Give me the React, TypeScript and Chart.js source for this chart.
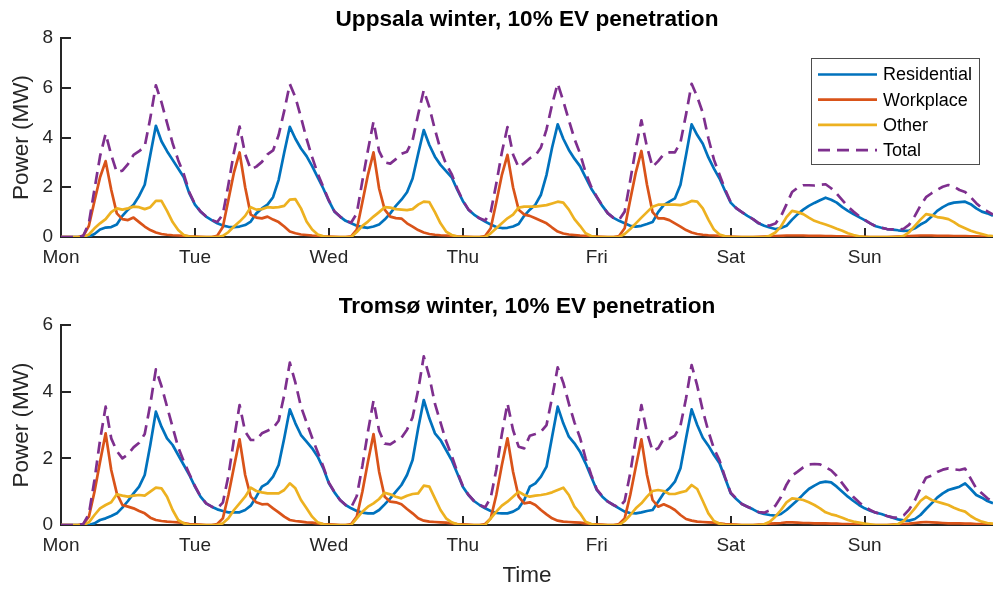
import { useEffect, useRef } from "react";
import { Chart, registerables } from "chart.js";

Chart.register(...registerables);

const FONT = "'Liberation Sans', Arial, Helvetica, sans-serif";
Chart.defaults.font.family = FONT;

// x axis: hours since Monday 00:00
const HOURS = Array.from({ length: 168 }, (_, i) => i);
const DAY_TICKS = [0, 24, 48, 72, 96, 120, 144];
const DAY_NAMES = ["Mon", "Tue", "Wed", "Thu", "Fri", "Sat", "Sun"];

const SERIES_LABELS = ["Residential", "Workplace", "Other", "Total"];
const SERIES_COLORS = ["#0072BD", "#D95319", "#EDB120", "#7E2F8E"];

// ---- Uppsala, hourly charging load (MW) ----
const uppsalaResidential = [
  0, 0, 0, 0, 0, 0.02, 0.12, 0.3, 0.38, 0.4, 0.5, 0.85, 1.1, 1.3, 1.65, 2.1, 3.3, 4.47, 3.85, 3.45, 3.1, 2.75, 2.4, 1.75,
  1.3, 1.02, 0.82, 0.68, 0.55, 0.46, 0.41, 0.4, 0.42, 0.48, 0.62, 0.95, 1.15, 1.3, 1.6, 2.3, 3.4, 4.43, 3.95, 3.56, 3.25, 2.85, 2.4, 1.95,
  1.45, 1.02, 0.82, 0.65, 0.55, 0.45, 0.4, 0.37, 0.42, 0.5, 0.7, 0.95, 1.25, 1.5, 1.8, 2.35, 3.35, 4.3, 3.7, 3.23, 2.9, 2.65, 2.4, 1.9,
  1.45, 1.1, 0.9, 0.75, 0.62, 0.5, 0.4, 0.36, 0.37, 0.42, 0.52, 0.85, 1.1, 1.3, 1.7, 2.5, 3.6, 4.53, 3.95, 3.5, 3.15, 2.85, 2.4, 1.95,
  1.6, 1.25, 0.95, 0.77, 0.65, 0.55, 0.45, 0.42, 0.45, 0.52, 0.6, 1.0, 1.28, 1.42, 1.55, 2.1, 3.3, 4.53, 4.1, 3.75, 3.2, 2.75, 2.35, 1.85,
  1.38, 1.15, 1.0, 0.85, 0.72, 0.55, 0.45, 0.38, 0.32, 0.36, 0.45, 0.7, 0.92, 1.1, 1.25, 1.37, 1.48, 1.58, 1.5, 1.38, 1.2, 1.05, 0.92, 0.8,
  0.68, 0.55, 0.43, 0.37, 0.32, 0.3, 0.27, 0.25, 0.26, 0.35, 0.5, 0.62, 0.82, 1.05, 1.2, 1.32, 1.38, 1.4, 1.42, 1.32, 1.15, 1.02, 0.95, 0.85,
];
const uppsalaWorkplace = [
  0, 0, 0, 0, 0.05, 0.45, 1.45, 2.4, 3.05, 1.9, 0.95, 0.72, 0.68, 0.78, 0.6, 0.42, 0.28, 0.18, 0.12, 0.09, 0.07, 0.06, 0.05, 0.03,
  0.02, 0.01, 0, 0, 0.05, 0.4, 1.5, 2.6, 3.4, 2.0, 0.9, 0.78, 0.75, 0.82, 0.7, 0.6, 0.42, 0.22, 0.15, 0.1, 0.08, 0.06, 0.05, 0.03,
  0.02, 0.01, 0, 0, 0.03, 0.3, 1.4, 2.5, 3.4, 1.95, 1.1, 0.82, 0.76, 0.74, 0.55, 0.42, 0.28, 0.18, 0.12, 0.09, 0.07, 0.06, 0.05, 0.03,
  0.02, 0.01, 0, 0, 0.04, 0.35, 1.4, 2.5, 3.3, 2.0, 1.1, 0.9, 0.85, 0.75, 0.65, 0.55, 0.38, 0.22, 0.14, 0.1, 0.08, 0.06, 0.05, 0.03,
  0.02, 0.01, 0, 0, 0.04, 0.35, 1.5, 2.6, 3.46, 2.1, 1.0, 0.75, 0.75, 0.68, 0.55, 0.42, 0.28, 0.18, 0.12, 0.09, 0.07, 0.06, 0.05, 0.03,
  0.02, 0.01, 0, 0, 0, 0.01, 0.02, 0.03, 0.04, 0.05, 0.06, 0.06, 0.06, 0.06, 0.05, 0.05, 0.05, 0.04, 0.04, 0.03, 0.03, 0.02, 0.02, 0.01,
  0.01, 0, 0, 0, 0, 0.01, 0.02, 0.03, 0.04, 0.05, 0.06, 0.06, 0.06, 0.05, 0.05, 0.05, 0.04, 0.04, 0.04, 0.03, 0.03, 0.02, 0.02, 0.01,
];
const uppsalaOther = [
  0, 0, 0, 0, 0, 0.1, 0.35, 0.55, 0.72, 1.0, 1.15, 1.1, 1.15, 1.22, 1.2, 1.12, 1.2, 1.45, 1.45, 1.05, 0.6, 0.28, 0.08, 0.02,
  0, 0, 0, 0, 0, 0.05, 0.2, 0.42, 0.62, 0.85, 1.2, 1.1, 1.12, 1.2, 1.18, 1.2, 1.25, 1.5, 1.52, 1.15, 0.62, 0.3, 0.1, 0.03,
  0, 0, 0, 0, 0, 0.2, 0.45, 0.62, 0.82, 1.0, 1.2, 1.18, 1.12, 1.1, 1.08, 1.12, 1.3, 1.42, 1.4, 1.0, 0.55, 0.22, 0.08, 0.02,
  0, 0, 0, 0, 0, 0.15, 0.35, 0.55, 0.75, 0.9, 1.18, 1.22, 1.22, 1.22, 1.25, 1.28, 1.35, 1.42, 1.38, 1.1, 0.72, 0.45, 0.15, 0.04,
  0, 0, 0, 0, 0, 0.12, 0.32, 0.55, 0.78, 1.0, 1.22, 1.3, 1.3, 1.3, 1.3, 1.28, 1.35, 1.45, 1.42, 1.15, 0.7, 0.3, 0.1, 0.03,
  0, 0, 0, 0, 0, 0, 0, 0.05, 0.18, 0.42, 0.8, 1.05, 1.0, 0.92, 0.78, 0.65, 0.57, 0.5, 0.42, 0.33, 0.25, 0.15, 0.08, 0.03,
  0, 0, 0, 0, 0, 0, 0, 0.05, 0.2, 0.45, 0.7, 0.92, 0.88, 0.8, 0.77, 0.72, 0.6, 0.45, 0.35, 0.25, 0.18, 0.12, 0.06, 0.04,
];

// ---- Tromsø, hourly charging load (MW) ----
const tromsoResidential = [
  0, 0, 0, 0, 0, 0, 0.05, 0.15, 0.2, 0.27, 0.35, 0.52, 0.72, 0.95, 1.15, 1.5, 2.4, 3.4, 2.95, 2.6, 2.4, 2.1, 1.8, 1.5,
  1.15, 0.85, 0.65, 0.55, 0.47, 0.42, 0.38, 0.38, 0.38, 0.45, 0.58, 0.85, 1.15, 1.25, 1.45, 1.8, 2.6, 3.47, 3.05, 2.7, 2.5, 2.3, 2.05, 1.7,
  1.25, 0.98, 0.75, 0.6, 0.5, 0.42, 0.37, 0.35, 0.35, 0.45, 0.62, 0.8, 1.0, 1.2, 1.5, 1.95, 2.9, 3.75, 3.2, 2.75, 2.55, 2.25, 1.95, 1.55,
  1.15, 0.9, 0.72, 0.6, 0.5, 0.42, 0.36, 0.35, 0.35, 0.4, 0.5, 0.75, 1.15, 1.25, 1.45, 1.75, 2.65, 3.55, 3.05, 2.65, 2.45, 2.2, 1.85, 1.45,
  1.05, 0.85, 0.7, 0.6, 0.5, 0.4, 0.36, 0.35, 0.38, 0.42, 0.45, 0.7, 0.95, 1.1, 1.3, 1.7, 2.6, 3.47, 3.0, 2.62, 2.38, 2.1, 1.85, 1.4,
  0.95, 0.78, 0.63, 0.55, 0.47, 0.38, 0.33, 0.3, 0.28, 0.33, 0.45, 0.6, 0.75, 0.92, 1.08, 1.18, 1.27, 1.3, 1.28, 1.15, 1.0, 0.85, 0.72, 0.6,
  0.5, 0.43, 0.37, 0.33, 0.27, 0.22, 0.17, 0.14, 0.13, 0.18, 0.3, 0.48, 0.65, 0.82, 0.95, 1.05, 1.1, 1.15, 1.25, 1.08, 0.9, 0.82, 0.72, 0.65,
];
const tromsoWorkplace = [
  0, 0, 0, 0, 0.03, 0.25, 1.0, 1.9, 2.75, 1.65, 0.95, 0.6, 0.55, 0.5, 0.42, 0.35, 0.22, 0.15, 0.12, 0.1, 0.09, 0.08, 0.06, 0.03,
  0.02, 0.01, 0, 0, 0.03, 0.2, 0.9, 1.75, 2.57, 1.5, 0.85, 0.68, 0.62, 0.63, 0.5, 0.38, 0.25, 0.15, 0.12, 0.1, 0.08, 0.07, 0.05, 0.03,
  0.02, 0.01, 0, 0, 0.03, 0.25, 1.0, 1.9, 2.73, 1.6, 0.85, 0.7, 0.68, 0.62, 0.48, 0.35, 0.2, 0.13, 0.1, 0.09, 0.08, 0.07, 0.05, 0.03,
  0.02, 0.01, 0, 0, 0.03, 0.2, 0.9, 1.8, 2.6, 1.6, 0.85, 0.65, 0.68, 0.6, 0.45, 0.32, 0.2, 0.13, 0.1, 0.09, 0.08, 0.07, 0.05, 0.03,
  0.02, 0.01, 0, 0, 0.03, 0.2, 0.9, 1.75, 2.57, 1.5, 0.75, 0.55, 0.62, 0.55, 0.45, 0.3, 0.18, 0.13, 0.1, 0.09, 0.08, 0.07, 0.05, 0.03,
  0.02, 0.01, 0, 0, 0, 0.01, 0.02, 0.04, 0.05, 0.06, 0.08, 0.08, 0.07, 0.06, 0.06, 0.05, 0.05, 0.05, 0.04, 0.04, 0.03, 0.03, 0.02, 0.01,
  0.01, 0, 0, 0, 0, 0.01, 0.02, 0.03, 0.04, 0.06, 0.08, 0.09, 0.08, 0.07, 0.06, 0.05, 0.05, 0.05, 0.04, 0.04, 0.03, 0.03, 0.02, 0.01,
];
const tromsoOther = [
  0, 0, 0, 0, 0, 0.08, 0.3, 0.5, 0.6, 0.68, 0.92, 0.88, 0.85, 0.88, 0.9, 0.88, 1.0, 1.12, 1.1, 0.85, 0.45, 0.15, 0.05, 0,
  0, 0, 0, 0, 0, 0.05, 0.2, 0.45, 0.65, 0.85, 1.12, 1.02, 0.98, 0.95, 0.95, 0.95, 1.05, 1.25, 1.1, 0.75, 0.5, 0.25, 0.08, 0.02,
  0, 0, 0, 0, 0, 0.2, 0.4, 0.55, 0.65, 0.78, 0.97, 0.92, 0.85, 0.8, 0.88, 0.93, 0.95, 1.18, 1.15, 0.8, 0.45, 0.2, 0.08, 0.02,
  0, 0, 0, 0, 0, 0.2, 0.4, 0.58, 0.7, 0.85, 1.0, 0.9, 0.85, 0.88, 0.9, 0.93, 0.98, 1.05, 1.12, 0.9, 0.55, 0.35, 0.1, 0.03,
  0, 0, 0, 0, 0, 0.12, 0.3, 0.5, 0.65, 0.85, 1.02, 1.05, 1.02, 0.93, 0.93, 0.98, 1.02, 1.2, 1.08, 0.72, 0.35, 0.12, 0.04, 0,
  0, 0, 0, 0, 0, 0, 0.02, 0.1, 0.25, 0.45, 0.68, 0.8, 0.78, 0.75, 0.68, 0.6, 0.5, 0.38, 0.32, 0.28, 0.22, 0.15, 0.1, 0.07,
  0.04, 0.02, 0, 0, 0, 0, 0.03, 0.12, 0.3, 0.5, 0.72, 0.85, 0.75, 0.7, 0.65, 0.6, 0.52, 0.45, 0.4, 0.27, 0.17, 0.1, 0.06, 0.04,
];

const UPPSALA_Y_MAX = 8;
const TROMSO_Y_MAX = 6;
const AXIS_COLOR = "#262626";

// MATLAB-style inward tick marks on the x and y axes
const innerTicks = {
  id: "innerTicks",
  beforeDatasetsDraw(chart: any) {
    const { ctx, chartArea, scales } = chart;
    ctx.save();
    ctx.strokeStyle = AXIS_COLOR;
    ctx.lineWidth = 2;
    ctx.beginPath();
    scales.x.ticks.forEach((t: any) => {
      const px = Math.round(scales.x.getPixelForValue(t.value));
      ctx.moveTo(px, chartArea.bottom);
      ctx.lineTo(px, chartArea.bottom - 9);
    });
    scales.y.ticks.forEach((t: any) => {
      const py = Math.round(scales.y.getPixelForValue(t.value));
      ctx.moveTo(chartArea.left, py);
      ctx.lineTo(chartArea.left + 10, py);
    });
    ctx.stroke();
    ctx.restore();
  },
};

// Boxed legend in the upper-right corner of the plot area
const legendBox = {
  id: "legendBox",
  afterDraw(chart: any) {
    const { ctx, chartArea } = chart;
    const w = 168;
    const h = 106;
    const right = Math.round(chartArea.right - 14);
    const left = right - w;
    const top = Math.round(chartArea.top + 20);
    ctx.save();
    ctx.fillStyle = "#ffffff";
    ctx.fillRect(left, top, w, h);
    ctx.strokeStyle = "#4d4d4d";
    ctx.lineWidth = 1;
    ctx.strokeRect(left + 0.5, top + 0.5, w, h);
    ctx.font = `18px ${FONT}`;
    ctx.textBaseline = "middle";
    ctx.textAlign = "left";
    chart.data.datasets.forEach((ds: any, i: number) => {
      const y = top + 16.5 + 25.2 * i;
      ctx.strokeStyle = ds.borderColor;
      ctx.lineWidth = ds.borderWidth;
      ctx.setLineDash(ds.borderDash || []);
      ctx.beginPath();
      ctx.moveTo(left + 7, y);
      ctx.lineTo(left + 66, y);
      ctx.stroke();
      ctx.setLineDash([]);
      ctx.fillStyle = "#000000";
      ctx.fillText(ds.label, left + 72, y + 1);
    });
    ctx.restore();
  },
};

type PanelProps = {
  title: string;
  residential: number[];
  workplace: number[];
  other: number[];
  yMax: number;
  top: number;
  height: number;
  xAxisHeight: number;
  showLegend: boolean;
  showTimeLabel: boolean;
};

function Panel(props: PanelProps) {
  const ref = useRef<HTMLCanvasElement>(null);

  useEffect(() => {
    const { residential, workplace, other } = props;
    const total = residential.map((v, i) => v + workplace[i] + other[i]);
    const seriesData = [residential, workplace, other, total];

    const datasets = seriesData.map((data, i) => ({
      label: SERIES_LABELS[i],
      data,
      borderColor: SERIES_COLORS[i],
      backgroundColor: SERIES_COLORS[i],
      borderWidth: 2.7,
      borderDash: i === 3 ? [12, 7] : [],
      borderJoinStyle: "round" as const,
      pointRadius: 0,
      tension: 0,
      fill: false,
      order: 4 - i,
    }));

    const chart = new Chart(ref.current as HTMLCanvasElement, {
      type: "line",
      data: { labels: HOURS, datasets },
      options: {
        responsive: false,
        animation: false,
        events: [],
        layout: { padding: 0 },
        plugins: {
          legend: { display: false },
          tooltip: { enabled: false },
          title: {
            display: true,
            fullSize: false,
            text: props.title,
            color: "#000000",
            font: { size: 22.6, weight: "bold", family: FONT, lineHeight: 1.2 },
            padding: { top: 6.6, bottom: 4.3 },
          },
        },
        scales: {
          x: {
            type: "linear",
            min: 0,
            max: 167,
            afterBuildTicks: (scale: any) => {
              scale.ticks = DAY_TICKS.map((v) => ({ value: v }));
            },
            afterFit: (scale: any) => {
              scale.height = props.xAxisHeight;
            },
            ticks: {
              autoSkip: false,
              maxRotation: 0,
              minRotation: 0,
              padding: 9,
              color: AXIS_COLOR,
              font: { size: 19, family: FONT },
              callback: (v: any) => DAY_NAMES[Math.round(Number(v) / 24)] ?? "",
            },
            grid: { display: false, drawTicks: false },
            border: { display: true, color: AXIS_COLOR, width: 2 },
            title: {
              display: props.showTimeLabel,
              text: "Time",
              color: AXIS_COLOR,
              font: { size: 22.5, family: FONT, lineHeight: 1.2 },
              padding: { top: 0, bottom: 1 },
            },
          },
          y: {
            type: "linear",
            min: 0,
            max: props.yMax,
            afterFit: (scale: any) => {
              scale.width = 61;
            },
            ticks: {
              stepSize: 2,
              padding: 8,
              color: AXIS_COLOR,
              font: { size: 19, family: FONT },
            },
            grid: { display: false, drawTicks: false },
            border: { display: true, color: AXIS_COLOR, width: 2 },
            title: {
              display: true,
              text: "Power (MW)",
              color: AXIS_COLOR,
              font: { size: 22.5, family: FONT, lineHeight: 1.2 },
              padding: { top: 8.5, bottom: 0 },
            },
          },
        },
      } as any,
      plugins: props.showLegend ? [innerTicks, legendBox] : [innerTicks],
    });

    return () => chart.destroy();
  }, []);

  return (
    <canvas
      ref={ref}
      width={993}
      height={props.height}
      style={{ position: "absolute", left: 0, top: props.top, width: 993, height: props.height }}
    />
  );
}

export default function App() {
  return (
    <div style={{ position: "fixed", left: 0, top: 0, width: 993, height: 590, background: "#ffffff", overflow: "hidden" }}>
      <Panel
        title="Uppsala winter, 10% EV penetration"
        residential={uppsalaResidential}
        workplace={uppsalaWorkplace}
        other={uppsalaOther}
        yMax={UPPSALA_Y_MAX}
        top={0}
        height={287}
        xAxisHeight={50}
        showLegend={true}
        showTimeLabel={false}
      />
      <Panel
        title="Tromsø winter, 10% EV penetration"
        residential={tromsoResidential}
        workplace={tromsoWorkplace}
        other={tromsoOther}
        yMax={TROMSO_Y_MAX}
        top={287}
        height={303}
        xAxisHeight={65}
        showLegend={false}
        showTimeLabel={true}
      />
    </div>
  );
}
